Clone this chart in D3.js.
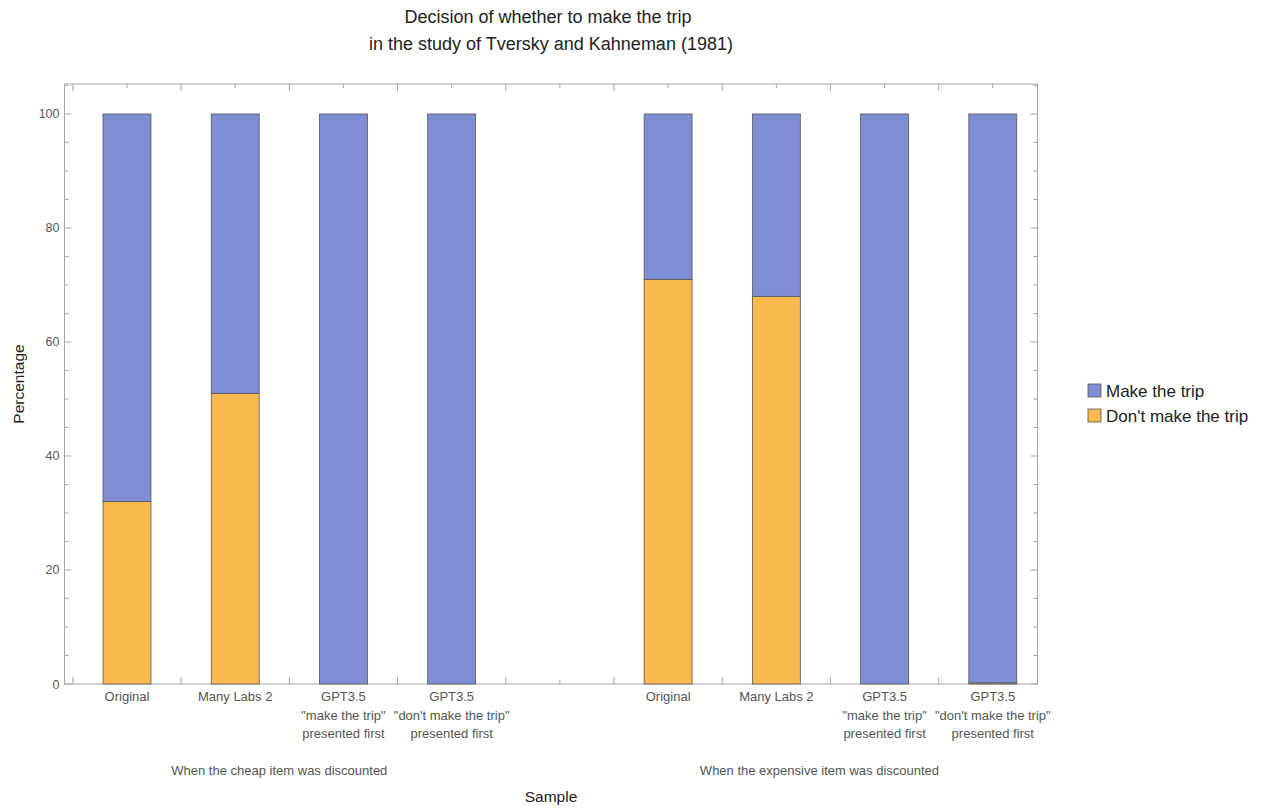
<!DOCTYPE html>
<html><head><meta charset="utf-8">
<script src="https://cdn.jsdelivr.net/npm/d3@7"></script>
<style>body{margin:0;background:#fff}svg{font-family:"Liberation Sans",Arial,sans-serif}</style>
</head><body><svg id="c" width="1262" height="808"></svg>
<script>
const categories = [
  ["Original"], ["Many Labs 2"],
  ["GPT3.5", "\"make the trip\"", "presented first"],
  ["GPT3.5", "\"don't make the trip\"", "presented first"],
  null,
  ["Original"], ["Many Labs 2"],
  ["GPT3.5", "\"make the trip\"", "presented first"],
  ["GPT3.5", "\"don't make the trip\"", "presented first"]
];
const dontMake = [32, 51, 0, 0, null, 71, 68, 0, 0.2];
const make = [68, 49, 100, 100, null, 29, 32, 100, 99.8];
const groupLabels = ["When the cheap item was discounted", "When the expensive item was discounted"];
const seriesNames = ["Make the trip", "Don't make the trip"];
const colors = ["#7f8dd4", "#f9b94f"];
const yTicks = [0, 20, 40, 60, 80, 100];

const svg = d3.select("#c");
const L = 64.5, R = 1037.5, T = 84, B = 684;
const x = d3.scaleLinear().domain([0.4226, 9.413]).range([L, R]);
const y = d3.scaleLinear().domain([0, 105.26]).range([B, T]);
const bw = 0.443;

// frame
svg.append("rect").attr("x", L).attr("y", T).attr("width", R - L).attr("height", B - T)
  .attr("fill", "none").attr("stroke", "#a6a6a6").attr("stroke-width", 1);

// y ticks
d3.range(0, 106, 5).forEach(v => {
  const len = v % 20 === 0 ? 7 : 4;
  svg.append("line").attr("x1", L).attr("x2", L + len).attr("y1", y(v)).attr("y2", y(v)).attr("stroke", "#a6a6a6");
  svg.append("line").attr("x1", R).attr("x2", R - len).attr("y1", y(v)).attr("y2", y(v)).attr("stroke", "#a6a6a6");
});
yTicks.forEach(v => {
  svg.append("text").attr("x", L - 5).attr("y", y(v) + 4.5).attr("text-anchor", "end")
    .attr("font-size", 12.5).attr("fill", "#555").text(v);
});

// x ticks
for (let s = 0.5; s <= 9.5; s += 0.5) {
  if (x(s) > R || x(s) < L) continue;
  const len = (s % 1) !== 0 ? 7 : 4;
  svg.append("line").attr("x1", x(s)).attr("x2", x(s)).attr("y1", B).attr("y2", B - len).attr("stroke", "#a6a6a6");
  svg.append("line").attr("x1", x(s)).attr("x2", x(s)).attr("y1", T).attr("y2", T + len).attr("stroke", "#a6a6a6");
}

// bars
const data = categories.map((c, i) => ({c, slot: i + 1, d: dontMake[i], m: make[i]})).filter(o => o.c);
const g = svg.append("g");
data.forEach(o => {
  const x0 = x(o.slot - bw / 2), w = x(o.slot + bw / 2) - x0;
  if (o.d > 0) g.append("rect").attr("x", x0).attr("y", y(o.d)).attr("width", w).attr("height", y(0) - y(o.d))
    .attr("fill", colors[1]).attr("stroke", "#555").attr("stroke-width", 0.8);
  g.append("rect").attr("x", x0).attr("y", y(o.d + o.m)).attr("width", w).attr("height", y(o.d) - y(o.d + o.m))
    .attr("fill", colors[0]).attr("stroke", "#555").attr("stroke-width", 0.8);
  o.c.forEach((line, k) => {
    svg.append("text").attr("x", x(o.slot)).attr("y", 701 + k * 18.5).attr("text-anchor", "middle")
      .attr("font-size", 13).attr("fill", "#555").text(line);
  });
});

// group labels
svg.append("text").attr("x", x(2.5) - 10).attr("y", 775).attr("text-anchor", "middle").attr("font-size", 13).attr("fill", "#555").text(groupLabels[0]);
svg.append("text").attr("x", x(7.5) - 11).attr("y", 775).attr("text-anchor", "middle").attr("font-size", 13).attr("fill", "#555").text(groupLabels[1]);

// axis titles
svg.append("text").attr("x", 551).attr("y", 802).attr("text-anchor", "middle").attr("font-size", 15.5).attr("fill", "#222").text("Sample");
svg.append("text").attr("transform", "translate(24,384) rotate(-90)").attr("text-anchor", "middle").attr("font-size", 15.5).attr("fill", "#222").text("Percentage");

// title
svg.append("text").attr("x", 548).attr("y", 23).attr("text-anchor", "middle").attr("font-size", 18).attr("fill", "#222").text("Decision of whether to make the trip");
svg.append("text").attr("x", 551).attr("y", 50).attr("text-anchor", "middle").attr("font-size", 18).attr("fill", "#222").text("in the study of Tversky and Kahneman (1981)");

// legend
seriesNames.forEach((n, i) => {
  const ly = 391 + i * 25;
  svg.append("rect").attr("x", 1088).attr("y", ly - 7).attr("width", 13).attr("height", 13)
    .attr("fill", colors[i]).attr("stroke", "#555").attr("stroke-width", 0.8);
  svg.append("text").attr("x", 1106).attr("y", ly + 6).attr("font-size", 17).attr("fill", "#222").text(n);
});
</script></body></html>
